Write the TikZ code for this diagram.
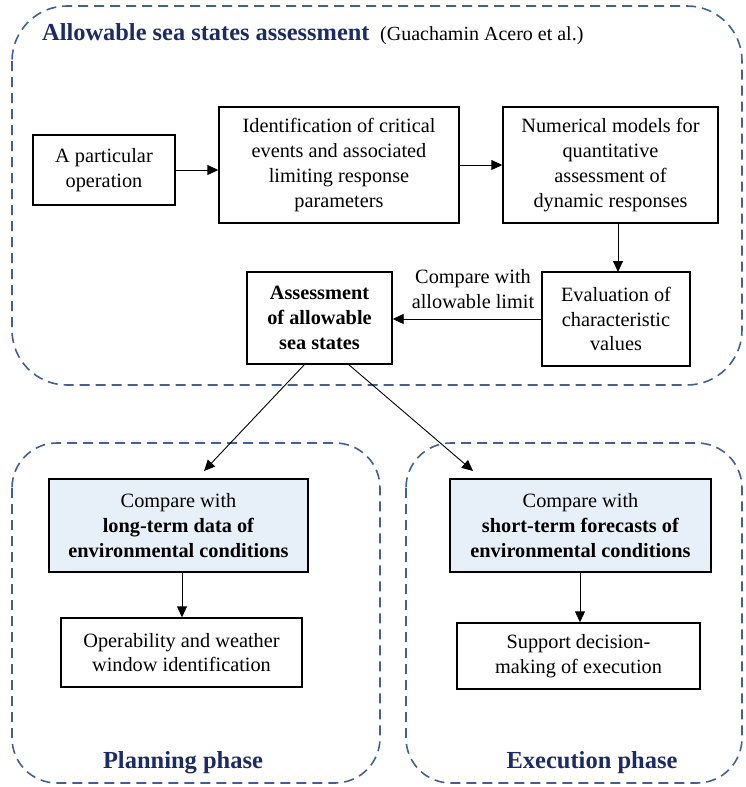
\documentclass[tikz,border=0pt]{standalone}
\usepackage{fontspec}
\setmainfont{Liberation Serif}
\usetikzlibrary{arrows.meta}
\definecolor{dashblue}{HTML}{41609A}
\definecolor{navy}{HTML}{1C2B66}
\definecolor{lightfill}{HTML}{E7EFF8}
\tikzset{
  box/.style={draw, line width=1.4pt, align=center, inner sep=0pt, font=\fontsize{20.3}{24.8}\selectfont},
  bluebox/.style={box, fill=lightfill},
  container/.style={draw=dashblue, line width=1.6pt, dash pattern=on 10pt off 6pt},
  arr/.style={-{Triangle[length=11pt,width=10pt]}, line width=0.9pt},
  lbl/.style={align=center, inner sep=0pt, font=\fontsize{20.3}{24.8}\selectfont},
  phase/.style={text=navy, font=\bfseries\fontsize{24.5}{28}\selectfont, inner sep=0pt},
}
\begin{document}
\begin{tikzpicture}[x=1pt,y=-1pt]
\useasboundingbox (0,0) rectangle (745,787);
% containers
\draw[container, rounded corners=55pt] (12,6) rectangle (742,385);
\draw[container, rounded corners=45pt] (12,443) rectangle (380,783);
\draw[container, rounded corners=45pt] (406,443) rectangle (742,783);
% title
\node[anchor=base west, text=navy, font=\bfseries\fontsize{24.4}{28}\selectfont, inner sep=0pt] (title) at (42,40) {Allowable sea states assessment};
\node[anchor=base west, font=\fontsize{20}{24}\selectfont, inner sep=0pt] (cite) at (380,40) {(Guachamin Acero et al.)};
% top boxes
\node[box, minimum width=142, minimum height=70] (a) at (104,170) {A particular\\operation};
\node[box, minimum width=240, minimum height=116] (b) at (339,165) {Identification of critical\\events and associated\\limiting response\\parameters};
\node[box, minimum width=215, minimum height=116] (c) at (610.5,165) {Numerical models for\\quantitative\\assessment of\\dynamic responses};
\node[box, minimum width=148, minimum height=94] (d) at (616,319) {Evaluation of\\characteristic\\values};
\node[box, minimum width=145, minimum height=92, font=\bfseries\fontsize{20.3}{24.8}\selectfont] (e) at (319.5,318) {Assessment\\of allowable\\sea states};
\node[lbl] (lab) at (473,289) {Compare with\\allowable limit};
% lower boxes
\node[bluebox, minimum width=259, minimum height=93] (f) at (178.5,525.5) {Compare with\\\textbf{long-term data of}\\\textbf{environmental conditions}};
\node[box, minimum width=241, minimum height=69] (g) at (181.5,652.5) {Operability and weather\\window identification};
\node[bluebox, minimum width=261, minimum height=93] (h) at (580.5,525.5) {Compare with\\\textbf{short-term forecasts of}\\\textbf{environmental conditions}};
\node[box, minimum width=243, minimum height=66] (i) at (578.5,656) {Support decision-\\making of execution};
\node[phase] (pp) at (183,763) {Planning phase};
\node[phase] (ep) at (592,763) {Execution phase};
% connectors
\draw[arr] (a.east) -- (a.east -| b.west);
\draw[arr] (b.east) -- (b.east -| c.west);
\draw[arr] (618,223) -- (618,272);
\draw[arr] (d.west) -- (d.west -| e.east);
\coordinate (e1) at (305,364);
\coordinate (e2) at (348,364);
\draw[arr] (e1) -- (204,471);
\draw[arr] (e2) -- (473,471);
\draw[arr] (f.south -| 182,0) -- (g.north -| 182,0);
\draw[arr] (h.south -| 580,0) -- (i.north -| 580,0);
\end{tikzpicture}
\end{document}
